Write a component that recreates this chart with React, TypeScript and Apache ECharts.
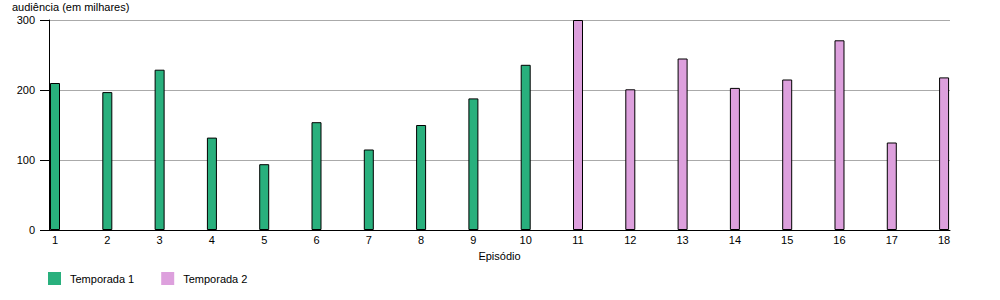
import React, { useEffect, useRef } from "react";
import * as echarts from "echarts";

const episodes = [1, 2, 3, 4, 5, 6, 7, 8, 9, 10, 11, 12, 13, 14, 15, 16, 17, 18];
const season1Episodes = [1, 2, 3, 4, 5, 6, 7, 8, 9, 10];
const season1Values = [210, 197, 229, 132, 94, 154, 115, 150, 188, 236];
const season2Episodes = [11, 12, 13, 14, 15, 16, 17, 18];
const season2Values = [300, 201, 245, 203, 215, 271, 125, 218];
const yTicks = [0, 100, 200, 300];

const FONT = "Liberation Sans, Arial, sans-serif";

export default function App() {
  const ref = useRef<HTMLDivElement>(null);
  useEffect(() => {
    if (!ref.current) return;
    const chart = echarts.init(ref.current, undefined, { renderer: "svg" });
    chart.setOption({
      animation: false,
      textStyle: { fontFamily: FONT },
      grid: { left: 49, right: 50, top: 20, bottom: 70 },
      graphic: [
        {
          type: "text",
          left: 12,
          top: 1,
          style: { text: "audiência (em milhares)", fontSize: 11, fontFamily: FONT, fill: "#000" },
        },
      ],
      legend: {
        left: 48,
        top: 272,
        padding: 0,
        icon: "rect",
        itemWidth: 13,
        itemHeight: 13,
        itemGap: 27,
        textStyle: { fontSize: 11, fontFamily: FONT, color: "#000", padding: [0, 0, 0, 4] },
        itemStyle: { borderWidth: 0 },
        data: ["Temporada 1", "Temporada 2"],
      },
      xAxis: {
        type: "value",
        min: 0.885,
        max: 18.113,
        name: "Episódio",
        nameLocation: "middle",
        nameGap: 20,
        nameTextStyle: { fontSize: 11, fontFamily: FONT, color: "#000" },
        axisLine: { show: true, lineStyle: { color: "#000", width: 1 } },
        axisTick: { show: false },
        splitLine: { show: false },
        axisLabel: {
          customValues: episodes,
          fontSize: 11,
          fontFamily: FONT,
          color: "#000",
          margin: 4,
        },
      },
      yAxis: {
        type: "value",
        min: 0,
        max: 300,
        interval: 100,
        axisLine: { show: true, lineStyle: { color: "#000", width: 1 } },
        axisTick: { show: true, length: 9, lineStyle: { color: "#000" } },
        splitLine: { show: true, lineStyle: { color: "#aaaaaa", width: 1 } },
        axisLabel: {
          customValues: yTicks,
          fontSize: 11,
          fontFamily: FONT,
          color: "#000",
          margin: 14,
        },
      },
      series: [
        {
          name: "Temporada 1",
          type: "bar",
          stack: "s",
          barWidth: 10,
          data: season1Episodes.map((e, i) => [e, season1Values[i]]),
          itemStyle: { color: "#29b07d", borderColor: "#000", borderWidth: 1 },
        },
        {
          name: "Temporada 2",
          type: "bar",
          stack: "s",
          barWidth: 10,
          data: season2Episodes.map((e, i) => [e, season2Values[i]]),
          itemStyle: { color: "#dda0dd", borderColor: "#000", borderWidth: 1 },
        },
      ],
    });
    return () => chart.dispose();
  }, []);
  return <div ref={ref} style={{ width: 1000, height: 300, position: "absolute", left: 0, top: 0 }} />;
}
